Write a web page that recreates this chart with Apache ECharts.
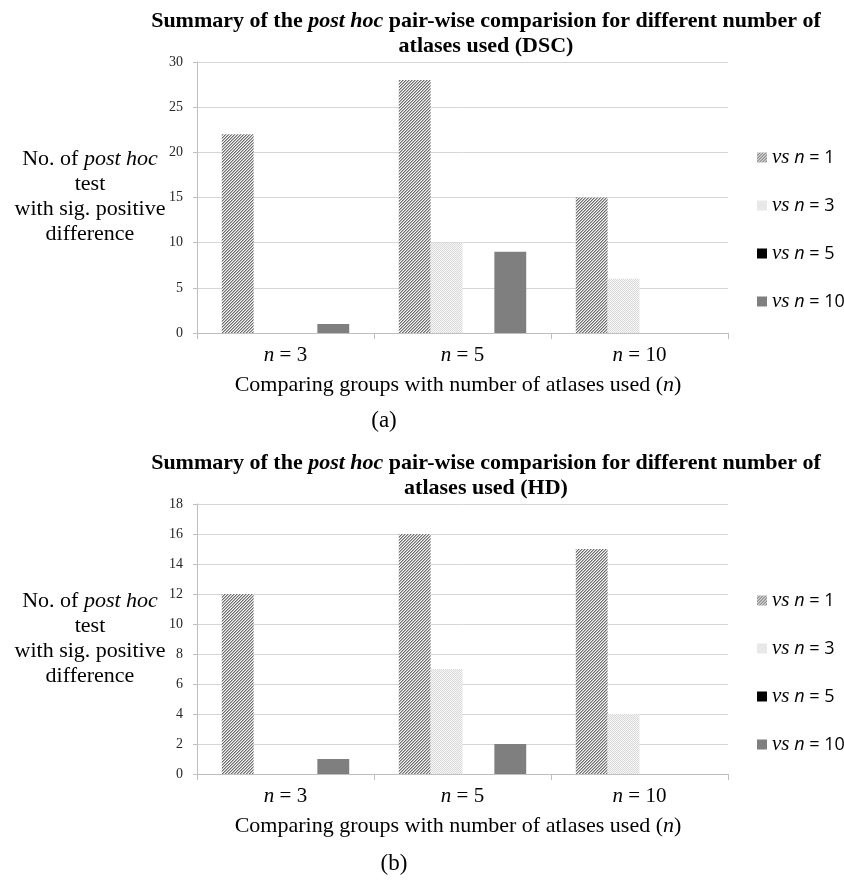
<!DOCTYPE html>
<html><head><meta charset="utf-8">
<script src="https://cdn.jsdelivr.net/npm/echarts@6/dist/echarts.min.js"></script>
<style>html,body{margin:0;padding:0;background:#fff}#c{width:844px;height:882px}</style>
</head><body><div id="c"></div>
<script>
var categories = ['3', '5', '10'];
var legendKeys = ['1', '3', '5', '10'];
// chart (a) DSC
var dscVs1 = [22, 28, 15];
var dscVs3 = [0, 10, 6];
var dscVs5 = [0, 0, 0];
var dscVs10 = [1, 9, 0];
// chart (b) HD
var hdVs1 = [12, 16, 15];
var hdVs3 = [0, 7, 4];
var hdVs5 = [0, 0, 0];
var hdVs10 = [1, 2, 0];
var dscTicks = {min: 0, max: 30, interval: 5};
var hdTicks = {min: 0, max: 18, interval: 2};

function hatchPattern() {
  var c = document.createElement('canvas'); c.width = 3; c.height = 3;
  var x = c.getContext('2d');
  x.fillStyle = '#f4f4f4'; x.fillRect(0, 0, 3, 3);
  for (var r = 0; r < 3; r++) {
    var d = (2 - r + 3) % 3;
    x.fillStyle = '#6e6e6e'; x.fillRect(d, r, 1, 1);
    x.fillStyle = '#b4b4b4'; x.fillRect((d + 1) % 3, r, 1, 1);
  }
  return {image: c, repeat: 'repeat'};
}
function dotPattern() {
  var c = document.createElement('canvas'); c.width = 2; c.height = 2;
  var x = c.getContext('2d');
  x.fillStyle = '#f7f7f7'; x.fillRect(0, 0, 2, 2);
  x.fillStyle = '#d9d9d9'; x.fillRect(0, 0, 1, 1); x.fillRect(1, 1, 1, 1);
  return {image: c, repeat: 'repeat'};
}
var colors = [hatchPattern(), dotPattern(), '#000000', '#7f7f7f'];

var chart = echarts.init(document.getElementById('c'), null, {renderer: 'canvas'});

var grids = [
  {left: 197, right: 116, top: 62, height: 271},
  {left: 197, right: 116, top: 504, height: 270}
];
function xAx(i) {
  return {
    type: 'category', gridIndex: i, data: categories,
    axisLine: {lineStyle: {color: '#bfbfbf', width: 1}},
    axisTick: {show: true, length: 6, lineStyle: {color: '#bfbfbf'}},
    axisLabel: {
      margin: 12,
      formatter: function (v) { return '{i|n} = ' + v; },
      color: '#000', fontFamily: 'Liberation Serif', fontSize: 21,
      rich: {i: {fontStyle: 'italic', fontFamily: 'Liberation Serif', fontSize: 21, color: '#000'}}
    }
  };
}
function yAx(i, t) {
  return {
    type: 'value', gridIndex: i, min: t.min, max: t.max, interval: t.interval,
    axisLine: {show: true, lineStyle: {color: '#bfbfbf'}},
    axisTick: {show: true, length: 4, lineStyle: {color: '#bfbfbf'}},
    splitLine: {lineStyle: {color: '#d6d6d6', width: 1}},
    axisLabel: {color: '#262626', fontFamily: 'Liberation Serif', fontSize: 14, margin: 14}
  };
}
var seriesData = [[dscVs1, dscVs3, dscVs5, dscVs10], [hdVs1, hdVs3, hdVs5, hdVs10]];
var series = [];
var prefixes = ['a', 'b'];
for (var g = 0; g < 2; g++) {
  for (var k = 0; k < 4; k++) {
    series.push({
      type: 'bar', name: prefixes[g] + legendKeys[k], xAxisIndex: g, yAxisIndex: g,
      data: seriesData[g][k], barGap: '0%', barCategoryGap: '28%',
      itemStyle: {color: colors[k]}, emphasis: {disabled: true}, animation: false
    });
  }
}
function legendFmt(name) {
  return '{v|vs} {n|n} = ' + name.slice(1);
}
var legendRich = {
  v: {fontFamily: 'Liberation Serif', fontStyle: 'italic', fontSize: 21, color: '#000'},
  n: {fontFamily: 'Open Sans', fontStyle: 'italic', fontSize: 18, color: '#000'}
};
function legend(g, top) {
  return {
    orient: 'vertical', left: 752, top: top, itemWidth: 10, itemHeight: 10, itemGap: 27,
    icon: 'rect', selectedMode: false,
    data: legendKeys.map(function (k) { return prefixes[g] + k; }),
    formatter: legendFmt,
    textStyle: {fontFamily: 'Open Sans', fontSize: 18, color: '#000', rich: legendRich}
  };
}
function titleText(y, suffix) {
  return {
    type: 'text', x: 486, y: y,
    style: {
      text: '{b|Summary of the }{bi|post hoc}{b| pair-wise comparision for different number of}\n{b|atlases used (' + suffix + ')}',
      align: 'center', verticalAlign: 'top', lineHeight: 25,
      rich: {
        b: {fontFamily: 'Liberation Serif', fontWeight: 'bold', fontSize: 22, lineHeight: 25},
        bi: {fontFamily: 'Liberation Serif', fontWeight: 'bold', fontStyle: 'italic', fontSize: 22, lineHeight: 25}
      }
    }
  };
}
function yName(y) {
  return {
    type: 'text', x: 90, y: y,
    style: {
      text: '{r|No. of }{i|post hoc}\n{r|test}\n{r|with sig. positive}\n{r|difference}',
      align: 'center', verticalAlign: 'top', lineHeight: 25,
      rich: {
        r: {fontFamily: 'Liberation Serif', fontSize: 22, lineHeight: 25},
        i: {fontFamily: 'Liberation Serif', fontStyle: 'italic', fontSize: 22, lineHeight: 25}
      }
    }
  };
}
function xName(y) {
  return {
    type: 'text', x: 458, y: y,
    style: {
      text: '{r|Comparing groups with number of atlases used (}{i|n}{r|)}',
      align: 'center', verticalAlign: 'middle',
      rich: {
        r: {fontFamily: 'Liberation Serif', fontSize: 22},
        i: {fontFamily: 'Liberation Serif', fontStyle: 'italic', fontSize: 22}
      }
    }
  };
}
function label(txt, x, y) {
  return {type: 'text', x: x, y: y, style: {text: txt, align: 'center', verticalAlign: 'middle', fontFamily: 'Liberation Serif', fontSize: 23, fill: '#000'}};
}
chart.setOption({
  animation: false,
  grid: grids,
  xAxis: [xAx(0), xAx(1)],
  yAxis: [yAx(0, dscTicks), yAx(1, hdTicks)],
  legend: [legend(0, 142), legend(1, 585)],
  series: series,
  graphic: [
    titleText(9, 'DSC'), titleText(451, 'HD'),
    yName(147), yName(589),
    xName(385), xName(826),
    label('(a)', 384, 421), label('(b)', 394, 864)
  ]
});
</script></body></html>
